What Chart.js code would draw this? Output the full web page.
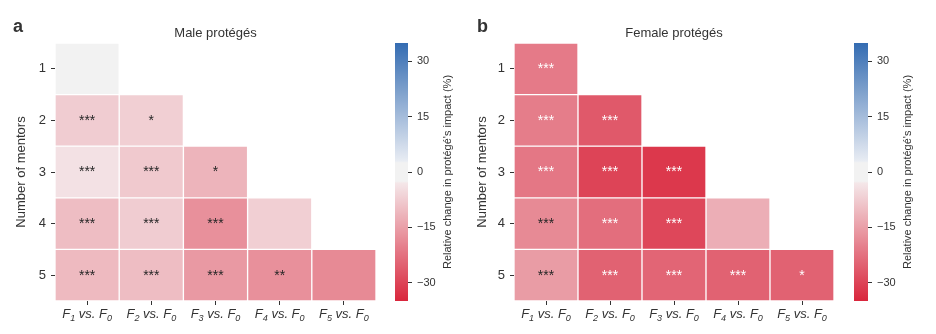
<!doctype html>
<html lang="en">
<head>
<meta charset="utf-8">
<title>Relative change in protégé's impact</title>
<style>
  * { margin: 0; padding: 0; }
  body { width: 936px; height: 334px; background: #fff; position: relative; overflow: hidden; }
  canvas { position: absolute; top: 0; }
</style>
</head>
<body>
<canvas id="maleMap" width="380" height="334" style="left:0px"></canvas>
<canvas id="maleBar" width="83" height="334" style="left:385px"></canvas>
<canvas id="femaleMap" width="377" height="334" style="left:461px"></canvas>
<canvas id="femaleBar" width="92" height="334" style="left:844px"></canvas>
<script src="https://cdn.jsdelivr.net/npm/chart.js/dist/chart.umd.min.js"></script>
<script>
const mentors = [1, 2, 3, 4, 5];
const comparisons = ['F1 vs. F0', 'F2 vs. F0', 'F3 vs. F0', 'F4 vs. F0', 'F5 vs. F0'];
const colorTicks = [-30, -15, 0, 15, 30];

// relative change in impact (%), one row per number of mentors
const maleChange = [
  [-1],
  [-7.5, -7],
  [-4, -8, -11.5],
  [-10, -7.5, -17.5, -7],
  [-10.5, -10, -16, -17.5, -18.5]
];
const maleStars = [
  [''],
  ['***', '*'],
  ['***', '***', '*'],
  ['***', '***', '***', ''],
  ['***', '***', '***', '**', '']
];
const femaleChange = [
  [-21],
  [-20.5, -26.5],
  [-21.5, -30, -32],
  [-18.5, -23, -29.5, -12.5],
  [-15.5, -25, -24.5, -25, -25]
];
const femaleStars = [
  ['***'],
  ['***', '***'],
  ['***', '***', '***'],
  ['***', '***', '***', ''],
  ['***', '***', '***', '***', '*']
];

const FONT = '"Liberation Sans", Arial, sans-serif';
const INK = '#333';

// red - grey - blue diverging map
const cmapStops = [
  [-35, [217, 38, 60]],
  [-3, [244, 231, 233]],
  [-2.5, [242, 242, 242]],
  [2.5, [242, 242, 242]],
  [3, [232, 236, 243]],
  [35, [52, 108, 178]]
];
function cmap(v) {
  v = Math.max(-35, Math.min(35, v));
  for (let i = 1; i < cmapStops.length; i++) {
    const [v1, c1] = cmapStops[i];
    if (v <= v1) {
      const [v0, c0] = cmapStops[i - 1];
      const t = v1 === v0 ? 1 : (v - v0) / (v1 - v0);
      const c = c0.map((a, k) => Math.round(a + (c1[k] - a) * t));
      return `rgb(${c.join(',')})`;
    }
  }
}

// "F1 vs. F0" -> F with subscript digits
function drawLabel(ctx, text, cx, baseline) {
  const parts = [];
  text.split(/(F\d)/).forEach(p => {
    if (!p) return;
    if (/^F\d$/.test(p)) { parts.push(['F', false]); parts.push([p[1], true]); }
    else parts.push([p, false]);
  });
  const big = `italic 13px ${FONT}`, small = `italic 9px ${FONT}`;
  let w = 0;
  parts.forEach(([t, sub]) => { ctx.font = sub ? small : big; w += ctx.measureText(t).width; });
  let xx = cx - w / 2;
  parts.forEach(([t, sub]) => {
    ctx.font = sub ? small : big;
    ctx.fillText(t, xx, baseline + (sub ? 3 : 0));
    xx += ctx.measureText(t).width;
  });
}

function heatmap(id, change, stars, letter, letterX, title, axisWidth, padRight) {
  const datasets = mentors.map((m, i) => ({
    data: comparisons.map((c, j) => j <= i ? [m - 0.5, m + 0.5] : null),
    backgroundColor: comparisons.map((c, j) => j <= i ? cmap(change[i][j]) : 'transparent'),
    borderColor: 'rgba(255,255,255,0.45)',
    borderWidth: 1,
    borderSkipped: false,
    barPercentage: 1,
    categoryPercentage: 1,
    grouped: false
  }));

  const annotate = {
    id: 'annotate',
    afterDatasetsDraw(chart) {
      const { ctx, chartArea, scales: { x, y } } = chart;
      ctx.save();
      ctx.textAlign = 'center';
      ctx.textBaseline = 'middle';
      ctx.font = `14px ${FONT}`;
      stars.forEach((row, i) => row.forEach((s, j) => {
        if (!s) return;
        ctx.fillStyle = change[i][j] < -20 ? '#fff' : '#262626';
        ctx.fillText(s, x.getPixelForValue(j), y.getPixelForValue(mentors[i]) + 0.5);
      }));
      // x tick labels with subscripts
      ctx.fillStyle = INK;
      ctx.textAlign = 'left';
      ctx.textBaseline = 'alphabetic';
      comparisons.forEach((c, j) => drawLabel(ctx, c, x.getPixelForValue(j), chartArea.bottom + 17));
      // panel letter and title
      ctx.font = `bold 18px ${FONT}`;
      ctx.fillText(letter, letterX, 32);
      ctx.textAlign = 'center';
      ctx.font = `13px ${FONT}`;
      ctx.fillText(title, (chartArea.left + chartArea.right) / 2, 37);
      ctx.restore();
    }
  };

  new Chart(document.getElementById(id), {
    type: 'bar',
    data: { labels: comparisons, datasets },
    options: {
      responsive: false,
      animation: false,
      layout: { padding: { left: 10, right: padRight, top: 43, bottom: 0 } },
      plugins: { legend: { display: false }, tooltip: { enabled: false } },
      scales: {
        x: {
          type: 'category',
          offset: true,
          grid: { display: true, drawOnChartArea: false, offset: false, tickLength: 4, tickColor: INK },
          border: { display: false },
          ticks: { display: false },
          afterFit: s => { s.height = 33; }
        },
        y: {
          type: 'linear',
          min: 0.5,
          max: 5.5,
          reverse: true,
          afterBuildTicks: s => { s.ticks = mentors.map(v => ({ value: v })); },
          grid: { display: true, drawOnChartArea: false, tickLength: 4, tickColor: INK },
          border: { display: false },
          ticks: { color: INK, font: { size: 13, family: FONT }, padding: 5 },
          title: { display: true, text: 'Number of mentors', color: INK, font: { size: 13, family: FONT }, padding: 4 },
          afterFit: s => { s.width = axisWidth; }
        }
      }
    },
    plugins: [annotate]
  });
}

function barGradient(chart) {
  const { ctx, chartArea, scales: { y } } = chart;
  if (!chartArea) return null;
  const y0 = y.getPixelForValue(-35), y1 = y.getPixelForValue(35);
  const g = ctx.createLinearGradient(0, y0, 0, y1);
  for (let v = -35; v <= 35; v += 0.5) g.addColorStop((v + 35) / 70, cmap(v));
  return g;
}

function colorbar(id, barWidth) {
  const el = document.getElementById(id);
  const cbTitle = {
    id: 'cbTitle',
    afterDraw(chart) {
      const { ctx, chartArea } = chart;
      ctx.save();
      ctx.translate(chartArea.right + 40, (chartArea.top + chartArea.bottom) / 2);
      ctx.rotate(-Math.PI / 2);
      ctx.textAlign = 'center';
      ctx.textBaseline = 'middle';
      ctx.fillStyle = INK;
      ctx.font = `11px ${FONT}`;
      ctx.fillText("Relative change in protégé's impact (%)", 0, 0);
      ctx.restore();
    }
  };
  new Chart(el, {
    type: 'bar',
    data: {
      labels: ['scale'],
      datasets: [{
        data: [[-35, 35]],
        backgroundColor: c => barGradient(c.chart),
        borderWidth: 0,
        barPercentage: 1,
        categoryPercentage: 1
      }]
    },
    options: {
      responsive: false,
      animation: false,
      layout: { padding: { left: 10, right: 0, top: 43, bottom: 33 } },
      plugins: { legend: { display: false }, tooltip: { enabled: false } },
      scales: {
        x: { display: false },
        y: {
          position: 'right',
          min: -35,
          max: 35,
          afterBuildTicks: s => { s.ticks = colorTicks.map(v => ({ value: v })); },
          grid: { display: true, drawOnChartArea: false, tickLength: 4, tickColor: INK },
          border: { display: false },
          ticks: {
            color: INK,
            font: { size: 11, family: FONT },
            padding: 5,
            callback: v => v < 0 ? '\u2212' + Math.abs(v) : String(v)
          },
          afterFit: s => { s.width = el.width - 10 - barWidth; }
        }
      }
    },
    plugins: [cbTitle]
  });
}

heatmap('maleMap', maleChange, maleStars, 'a', 13, 'Male protégés', 45, 4);
colorbar('maleBar', 13);
heatmap('femaleMap', femaleChange, femaleStars, 'b', 16, 'Female protégés', 43, 4);
colorbar('femaleBar', 14);
</script>
</body>
</html>
